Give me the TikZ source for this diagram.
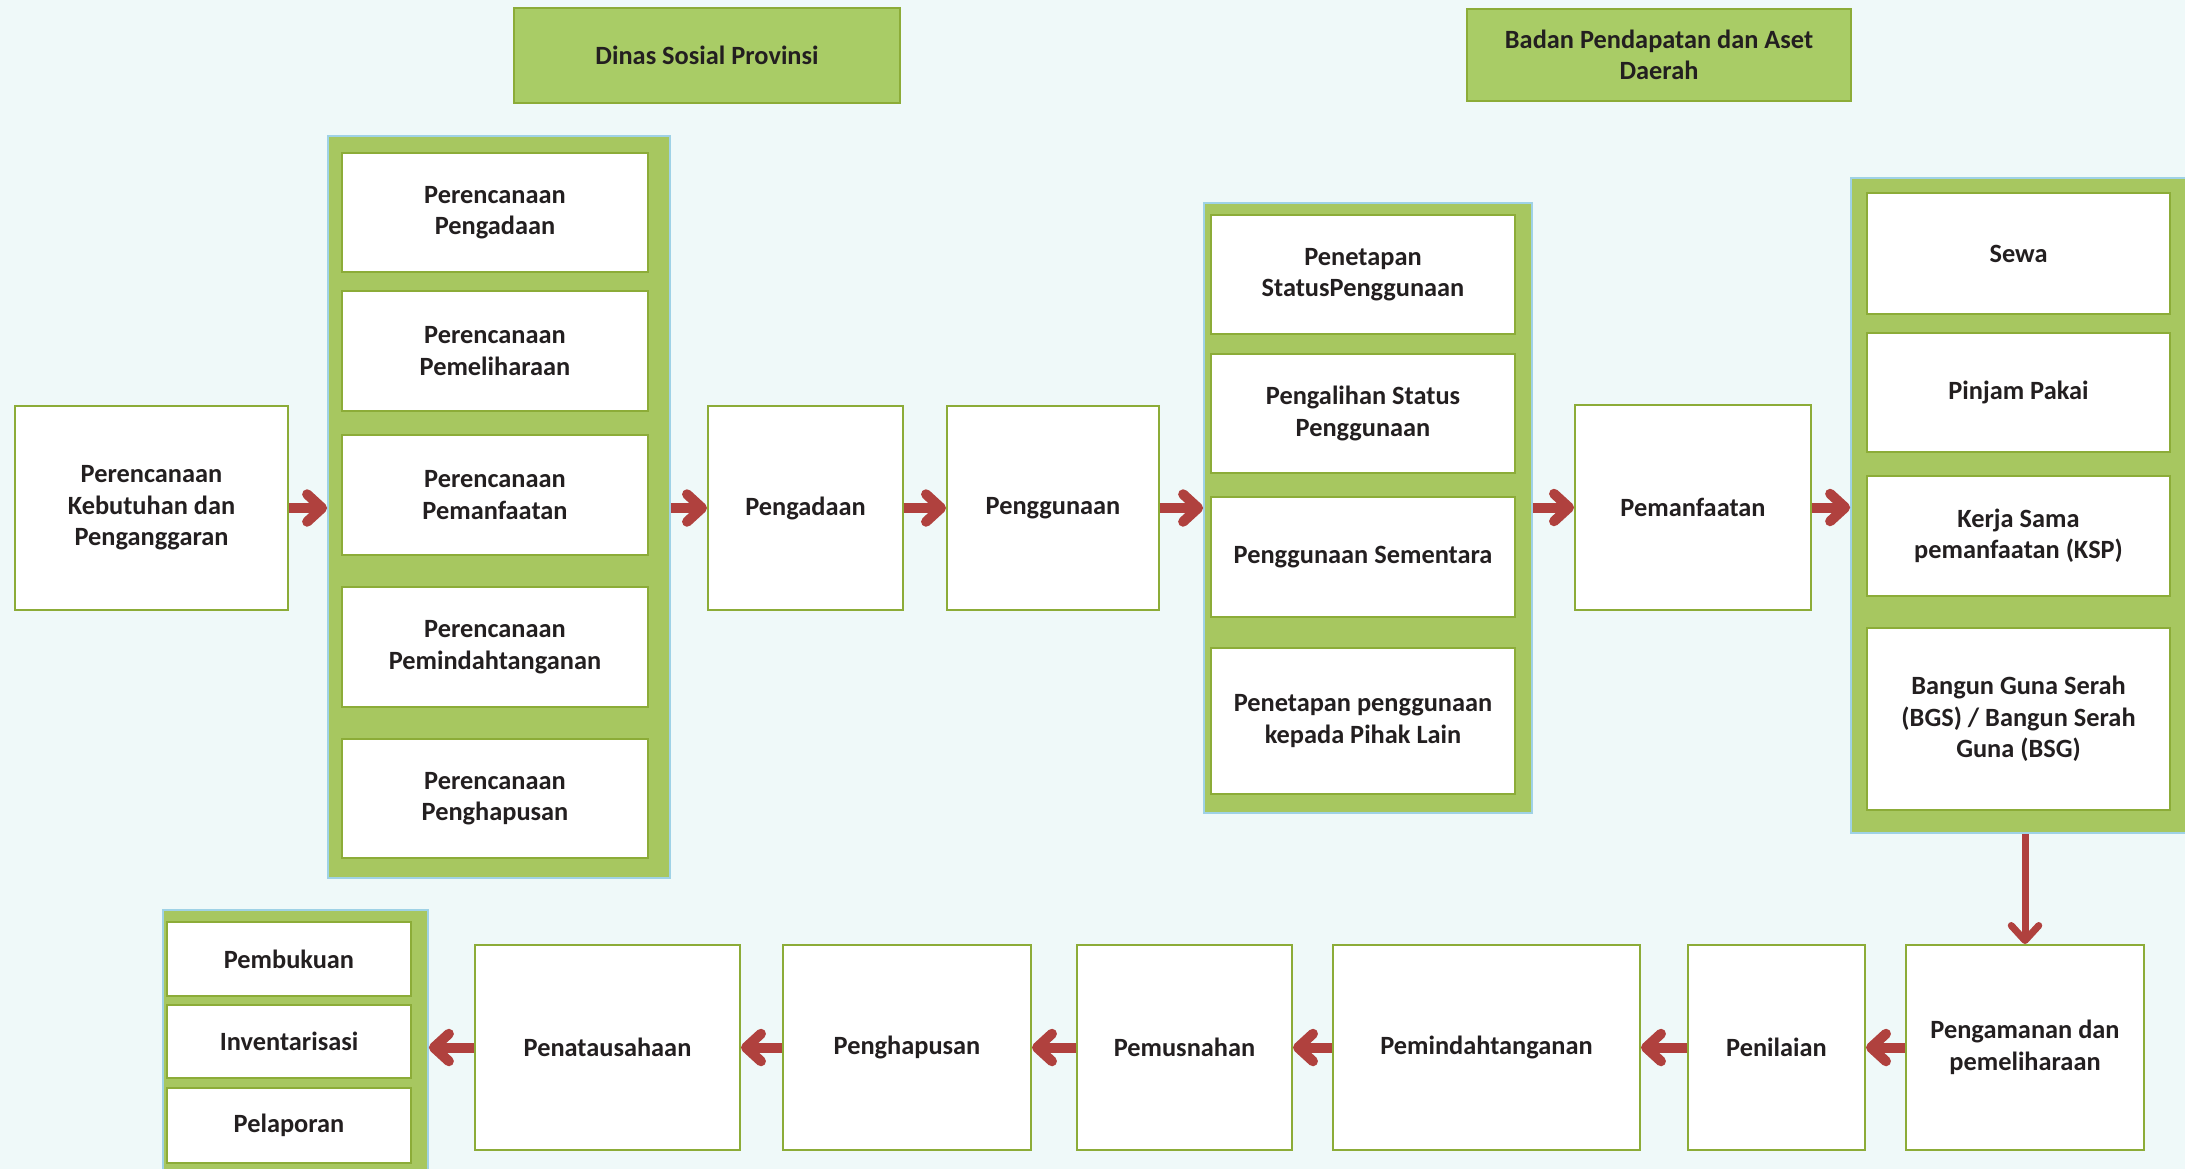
\documentclass[tikz,border=0pt]{standalone}
\usepackage{fontspec}
\setmainfont{Carlito}
\usepackage{tikz}
\usetikzlibrary{arrows.meta}
\definecolor{bgcyan}{HTML}{EFF9F9}
\definecolor{groupgreen}{HTML}{A7C760}
\definecolor{groupblue}{HTML}{9FD2E6}
\definecolor{boxgreen}{HTML}{8CAC38}
\definecolor{headgreen}{HTML}{A9CC66}
\definecolor{arrred}{HTML}{B0413E}
\definecolor{ink}{HTML}{231F20}
\tikzset{
  stage/.style={draw=boxgreen,line width=1.1pt,fill=white,align=center,text=ink,
                font=\bfseries\fontsize{15}{18}\selectfont,inner sep=2pt},
  group/.style={draw=groupblue,line width=1pt,fill=groupgreen,inner sep=0pt},
  head/.style={draw=boxgreen,line width=0.8pt,fill=headgreen,align=center,text=ink,
               font=\bfseries\fontsize{15}{18}\selectfont},
  sz/.style 2 args={minimum width=#1cm,minimum height=#2cm},
  arr/.style={draw=arrred,line width=0.2cm,-{Straight Barb[length=0.3cm,width=0.55cm,round]}},
  varr/.style={draw=arrred,line width=0.14cm,-{Straight Barb[length=0.3cm,width=0.55cm,round]}}
}
\begin{document}
\begin{tikzpicture}
  \path[use as bounding box,fill=bgcyan] (0,0) rectangle (43.7,-23.38);

  \node[head,sz={7.72}{1.9}] (dinas) at (14.14,-1.11) {Dinas Sosial Provinsi};
  \node[head,sz={7.68}{1.84}] (bapenda) at (33.18,-1.10) {Badan Pendapatan dan Aset\\Daerah};

  \node[stage,sz={5.46}{4.08}] (kebutuhan) at (3.03,-10.16) {Perencanaan\\Kebutuhan dan\\Penganggaran};

  \node[group,sz={6.84}{14.84}] (grpA) at (9.98,-10.14) {};
  \node[stage,sz={6.12}{2.38}] (rpengadaan) at (9.90,-4.25) {Perencanaan\\Pengadaan};
  \node[stage,sz={6.12}{2.4}] (rpemeliharaan) at (9.90,-7.02) {Perencanaan\\Pemeliharaan};
  \node[stage,sz={6.12}{2.4}] (rpemanfaatan) at (9.90,-9.90) {Perencanaan\\Pemanfaatan};
  \node[stage,sz={6.12}{2.4}] (rpemindah) at (9.90,-12.94) {Perencanaan\\Pemindahtanganan};
  \node[stage,sz={6.12}{2.38}] (rpenghapusan) at (9.90,-15.97) {Perencanaan\\Penghapusan};

  \node[stage,sz={3.9}{4.08}] (pengadaan) at (16.11,-10.16) {Pengadaan};
  \node[stage,sz={4.24}{4.08}] (penggunaan) at (21.06,-10.16) {Penggunaan};

  \node[group,sz={6.56}{12.2}] (grpB) at (27.36,-10.16) {};
  \node[stage,sz={6.08}{2.38}] (status) at (27.26,-5.49) {Penetapan\\StatusPenggunaan};
  \node[stage,sz={6.08}{2.38}] (alih) at (27.26,-8.27) {Pengalihan Status\\Penggunaan};
  \node[stage,sz={6.08}{2.4}] (sementara) at (27.26,-11.14) {Penggunaan Sementara};
  \node[stage,sz={6.08}{2.92}] (pihaklain) at (27.26,-14.42) {Penetapan penggunaan\\kepada Pihak Lain};

  \node[stage,sz={4.72}{4.1}] (pemanfaatan) at (33.86,-10.15) {Pemanfaatan};

  \node[group,sz={6.88}{13.1}] (grpC) at (40.46,-10.11) {};
  \node[stage,sz={6.06}{2.42}] (sewa) at (40.37,-5.07) {Sewa};
  \node[stage,sz={6.06}{2.38}] (pinjam) at (40.37,-7.85) {Pinjam Pakai};
  \node[stage,sz={6.06}{2.4}] (ksp) at (40.37,-10.72) {Kerja Sama\\pemanfaatan (KSP)};
  \node[stage,sz={6.06}{3.64}] (bgs) at (40.37,-14.38) {Bangun Guna Serah\\(BGS) / Bangun Serah\\Guna (BSG)};

  \node[stage,sz={4.76}{4.1}] (pengamanan) at (40.50,-20.95) {Pengamanan dan\\pemeliharaan};
  \node[stage,sz={3.54}{4.1}] (penilaian) at (35.53,-20.95) {Penilaian};
  \node[stage,sz={6.14}{4.1}] (pemindah) at (29.73,-20.95) {Pemindahtanganan};
  \node[stage,sz={4.3}{4.1}] (pemusnahan) at (23.69,-20.95) {Pemusnahan};
  \node[stage,sz={4.96}{4.1}] (penghapusan) at (18.14,-20.95) {Penghapusan};
  \node[stage,sz={5.3}{4.1}] (penatausahaan) at (12.15,-20.95) {Penatausahaan};

  \node[group,sz={5.3}{5.4}] (grpD) at (5.91,-20.9) {};
  \node[stage,sz={4.88}{1.48}] (pembukuan) at (5.78,-19.18) {Pembukuan};
  \node[stage,sz={4.88}{1.46}] (inventarisasi) at (5.78,-20.83) {Inventarisasi};
  \node[stage,sz={4.88}{1.5}] (pelaporan) at (5.78,-22.51) {Pelaporan};

  \draw[arr] (kebutuhan.east) -- (kebutuhan.east -| grpA.west);
  \draw[arr] (grpA.east |- pengadaan.west) -- (pengadaan.west);
  \draw[arr] (pengadaan.east) -- (penggunaan.west);
  \draw[arr] (penggunaan.east) -- (penggunaan.east -| grpB.west);
  \draw[arr] (grpB.east |- pemanfaatan.west) -- (pemanfaatan.west);
  \draw[arr] (pemanfaatan.east) -- (pemanfaatan.east -| grpC.west);
  \draw[varr] (grpC.south -| pengamanan.north) -- (pengamanan.north);
  \draw[arr] (pengamanan.west) -- (penilaian.east);
  \draw[arr] (penilaian.west) -- (pemindah.east);
  \draw[arr] (pemindah.west) -- (pemusnahan.east);
  \draw[arr] (pemusnahan.west) -- (penghapusan.east);
  \draw[arr] (penghapusan.west) -- (penatausahaan.east);
  \draw[arr] (penatausahaan.west) -- (penatausahaan.west -| grpD.east);
\end{tikzpicture}
\end{document}
